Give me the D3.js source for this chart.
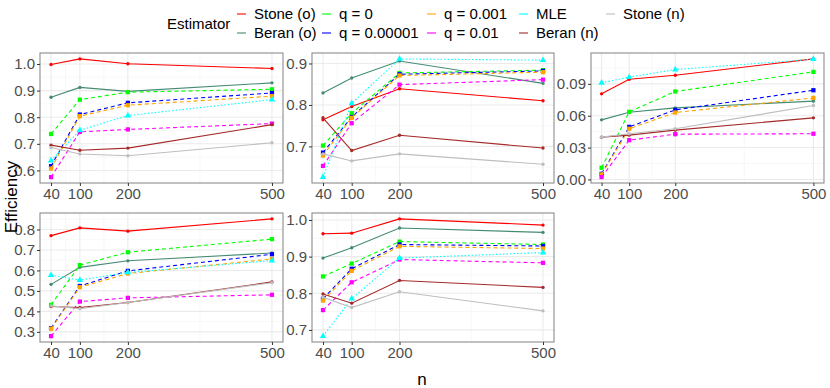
<!DOCTYPE html>
<html>
<head>
<meta charset="utf-8">
<script src="https://cdn.jsdelivr.net/npm/d3@7"></script>
<style>
  body { margin: 0; background: #fff; }
  svg text { font-family: "Liberation Sans Narrow", "Arial Narrow", "Liberation Sans", sans-serif; }
</style>
</head>
<body>
<svg id="chart" width="830" height="388"></svg>
<script>
// sample sizes on the x axis
const nValues = [40, 100, 200, 500];
const xTicks = [40, 100, 200, 500];

const estimators = ["Stone (o)", "Beran (o)", "q = 0", "q = 0.00001", "q = 0.001", "q = 0.01", "MLE", "Beran (n)", "Stone (n)"];
const colors = ["#ff0000", "#458b74", "#00ff00", "#0000ff", "#ffa500", "#ff00ff", "#00ffff", "#a52a2a", "#bebebe"];
const lineKind = ["solid", "solid", "dash", "dash", "dash", "dash", "dot", "solid", "solid"];

// one row per estimator, same order as above
const panelA = [
    [0.998, 1.019, 1.001, 0.983],
    [0.875, 0.912, 0.897, 0.929],
    [0.737, 0.866, 0.894, 0.905],
    [0.616, 0.810, 0.854, 0.891],
    [0.607, 0.804, 0.845, 0.879],
    [0.575, 0.745, 0.754, 0.776],
    [0.637, 0.751, 0.806, 0.866],
    [0.695, 0.676, 0.684, 0.772],
    [0.686, 0.662, 0.655, 0.704]
];
const panelB = [
    [0.764, 0.796, 0.839, 0.810],
    [0.829, 0.865, 0.906, 0.852],
    [0.702, 0.780, 0.877, 0.884],
    [0.685, 0.771, 0.874, 0.882],
    [0.678, 0.769, 0.871, 0.879],
    [0.653, 0.756, 0.849, 0.861],
    [0.626, 0.804, 0.911, 0.908],
    [0.769, 0.690, 0.727, 0.696],
    [0.682, 0.665, 0.682, 0.657]
];
const panelC = [
    [0.0806, 0.0944, 0.0981, 0.1135],
    [0.0561, 0.0633, 0.0674, 0.0737],
    [0.0110, 0.0637, 0.0828, 0.1013],
    [0.0053, 0.0495, 0.0655, 0.0840],
    [0.0047, 0.0477, 0.0630, 0.0768],
    [0.0022, 0.0370, 0.0426, 0.0430],
    [0.0910, 0.0963, 0.1035, 0.1132],
    [0.0398, 0.0417, 0.0464, 0.0580],
    [0.0398, 0.0430, 0.0477, 0.0696]
];
const panelD = [
    [0.770, 0.808, 0.792, 0.852],
    [0.532, 0.615, 0.647, 0.685],
    [0.432, 0.626, 0.689, 0.753],
    [0.318, 0.524, 0.598, 0.679],
    [0.315, 0.518, 0.585, 0.656],
    [0.279, 0.448, 0.466, 0.481],
    [0.577, 0.553, 0.590, 0.648],
    [0.424, 0.419, 0.443, 0.544],
    [0.427, 0.413, 0.443, 0.540]
];
const panelE = [
    [0.9625, 0.964, 1.003, 0.986],
    [0.896, 0.924, 0.978, 0.966],
    [0.846, 0.881, 0.941, 0.933],
    [0.785, 0.867, 0.933, 0.929],
    [0.780, 0.861, 0.928, 0.922],
    [0.754, 0.830, 0.892, 0.883],
    [0.683, 0.785, 0.896, 0.911],
    [0.798, 0.773, 0.835, 0.816],
    [0.789, 0.761, 0.804, 0.752]
];

const yTicksA = [0.6, 0.7, 0.8, 0.9, 1.0];
const yTicksB = [0.7, 0.8, 0.9];
const yTicksC = [0.00, 0.03, 0.06, 0.09];
const yTicksD = [0.3, 0.4, 0.5, 0.6, 0.7, 0.8];
const yTicksE = [0.7, 0.8, 0.9, 1.0];

const svg = d3.select("#chart");
svg.append("rect").attr("width", 830).attr("height", 388).attr("fill", "#fff");

const panels = [
    { data: panelA, ticks: yTicksA, fmt: ".1f", x0: 40, x1: 283, y0: 53, y1: 183 },
    { data: panelB, ticks: yTicksB, fmt: ".1f", x0: 312, x1: 554, y0: 53, y1: 183 },
    { data: panelC, ticks: yTicksC, fmt: ".2f", x0: 591, x1: 824, y0: 53, y1: 183 },
    { data: panelD, ticks: yTicksD, fmt: ".1f", x0: 40, x1: 283, y0: 213, y1: 342 },
    { data: panelE, ticks: yTicksE, fmt: ".1f", x0: 312, x1: 554, y0: 213, y1: 342 }
];

function dashFor(kind) {
    if (kind === "dash") return "4,3";
    if (kind === "dot") return "1.5,2";
    return null;
}

function drawPanel(p) {
    const g = svg.append("g");
    // ggplot style 5% expansion
    const xr = d3.extent(nValues);
    const xpad = (xr[1] - xr[0]) * 0.05;
    const x = d3.scaleLinear().domain([xr[0] - xpad, xr[1] + xpad]).range([p.x0, p.x1]);
    const yr = d3.extent(p.data.flat());
    const ypad = (yr[1] - yr[0]) * 0.05;
    const y = d3.scaleLinear().domain([yr[0] - ypad, yr[1] + ypad]).range([p.y1, p.y0]);

    // minor grid lines halfway between the breaks
    const step = p.ticks[1] - p.ticks[0];
    const yMinor = [p.ticks[0] - step / 2].concat(p.ticks.map(t => t + step / 2))
        .filter(v => v > y.domain()[0] && v < y.domain()[1]);
    const xMinor = [70, 150, 350];

    g.selectAll(".ymin").data(yMinor).enter().append("line")
        .attr("x1", p.x0).attr("x2", p.x1)
        .attr("y1", d => y(d)).attr("y2", d => y(d))
        .attr("stroke", "#f3f3f3").attr("stroke-width", 0.6);
    g.selectAll(".xmin").data(xMinor).enter().append("line")
        .attr("y1", p.y0).attr("y2", p.y1)
        .attr("x1", d => x(d)).attr("x2", d => x(d))
        .attr("stroke", "#f3f3f3").attr("stroke-width", 0.6);
    g.selectAll(".ymaj").data(p.ticks).enter().append("line")
        .attr("x1", p.x0).attr("x2", p.x1)
        .attr("y1", d => y(d)).attr("y2", d => y(d))
        .attr("stroke", "#ebebeb").attr("stroke-width", 1.1);
    g.selectAll(".xmaj").data(xTicks).enter().append("line")
        .attr("y1", p.y0).attr("y2", p.y1)
        .attr("x1", d => x(d)).attr("x2", d => x(d))
        .attr("stroke", "#ebebeb").attr("stroke-width", 1.1);

    // series
    const line = d3.line().x((d, i) => x(nValues[i])).y(d => y(d));
    p.data.forEach((vals, k) => {
        const col = colors[k];
        g.append("path")
            .attr("d", line(vals))
            .attr("fill", "none")
            .attr("stroke", col)
            .attr("stroke-width", 1.1)
            .attr("stroke-dasharray", dashFor(lineKind[k]));
        const pts = g.append("g").selectAll("path").data(vals).enter().append("path")
            .attr("transform", (d, i) => `translate(${x(nValues[i])},${y(d)})`)
            .attr("fill", col);
        if (lineKind[k] === "dash") {
            pts.attr("d", d3.symbol(d3.symbolSquare, 18));
        } else if (lineKind[k] === "dot") {
            pts.attr("d", d3.symbol(d3.symbolTriangle, 18));
        } else {
            pts.attr("d", d3.symbol(d3.symbolCircle, 9));
        }
    });

    // border
    g.append("rect")
        .attr("x", p.x0).attr("y", p.y0)
        .attr("width", p.x1 - p.x0).attr("height", p.y1 - p.y0)
        .attr("fill", "none").attr("stroke", "#8c8c8c").attr("stroke-width", 1.1);

    // axes
    const ax = g.append("g").attr("transform", `translate(0,${p.y1})`)
        .call(d3.axisBottom(x).tickValues(xTicks).tickSize(3).tickPadding(2).tickFormat(d3.format("d")));
    const ay = g.append("g").attr("transform", `translate(${p.x0},0)`)
        .call(d3.axisLeft(y).tickValues(p.ticks).tickSize(3).tickPadding(2).tickFormat(d3.format(p.fmt)));
    [ax, ay].forEach(a => {
        a.select(".domain").remove();
        a.selectAll(".tick line").attr("stroke", "#333");
        a.selectAll(".tick text").attr("fill", "#4d4d4d").style("font-size", "15px");
    });
}

panels.forEach(drawPanel);

// axis titles
svg.append("text")
    .attr("transform", "translate(17,197) rotate(-90)")
    .attr("text-anchor", "middle")
    .style("font-size", "17px")
    .text("Efficiency");
svg.append("text")
    .attr("x", 422).attr("y", 385)
    .attr("text-anchor", "middle")
    .style("font-size", "17px")
    .text("n");

// legend
const legendCols = [237, 322, 427, 519, 606];
const legendRows = [14, 33];
const legend = svg.append("g");
legend.append("text")
    .attr("x", 167).attr("y", 24)
    .attr("dy", "0.35em")
    .style("font-size", "15px")
    .text("Estimator");
estimators.forEach((name, k) => {
    const cx = legendCols[Math.floor(k / 2)];
    const cy = legendRows[k % 2];
    legend.append("line")
        .attr("x1", cx).attr("x2", cx + 9)
        .attr("y1", cy).attr("y2", cy)
        .attr("stroke", colors[k]).attr("stroke-width", 1.1);
    legend.append("text")
        .attr("x", cx + 17).attr("y", cy)
        .attr("dy", "0.35em")
        .style("font-size", "15px")
        .text(name);
});
</script>
</body>
</html>
